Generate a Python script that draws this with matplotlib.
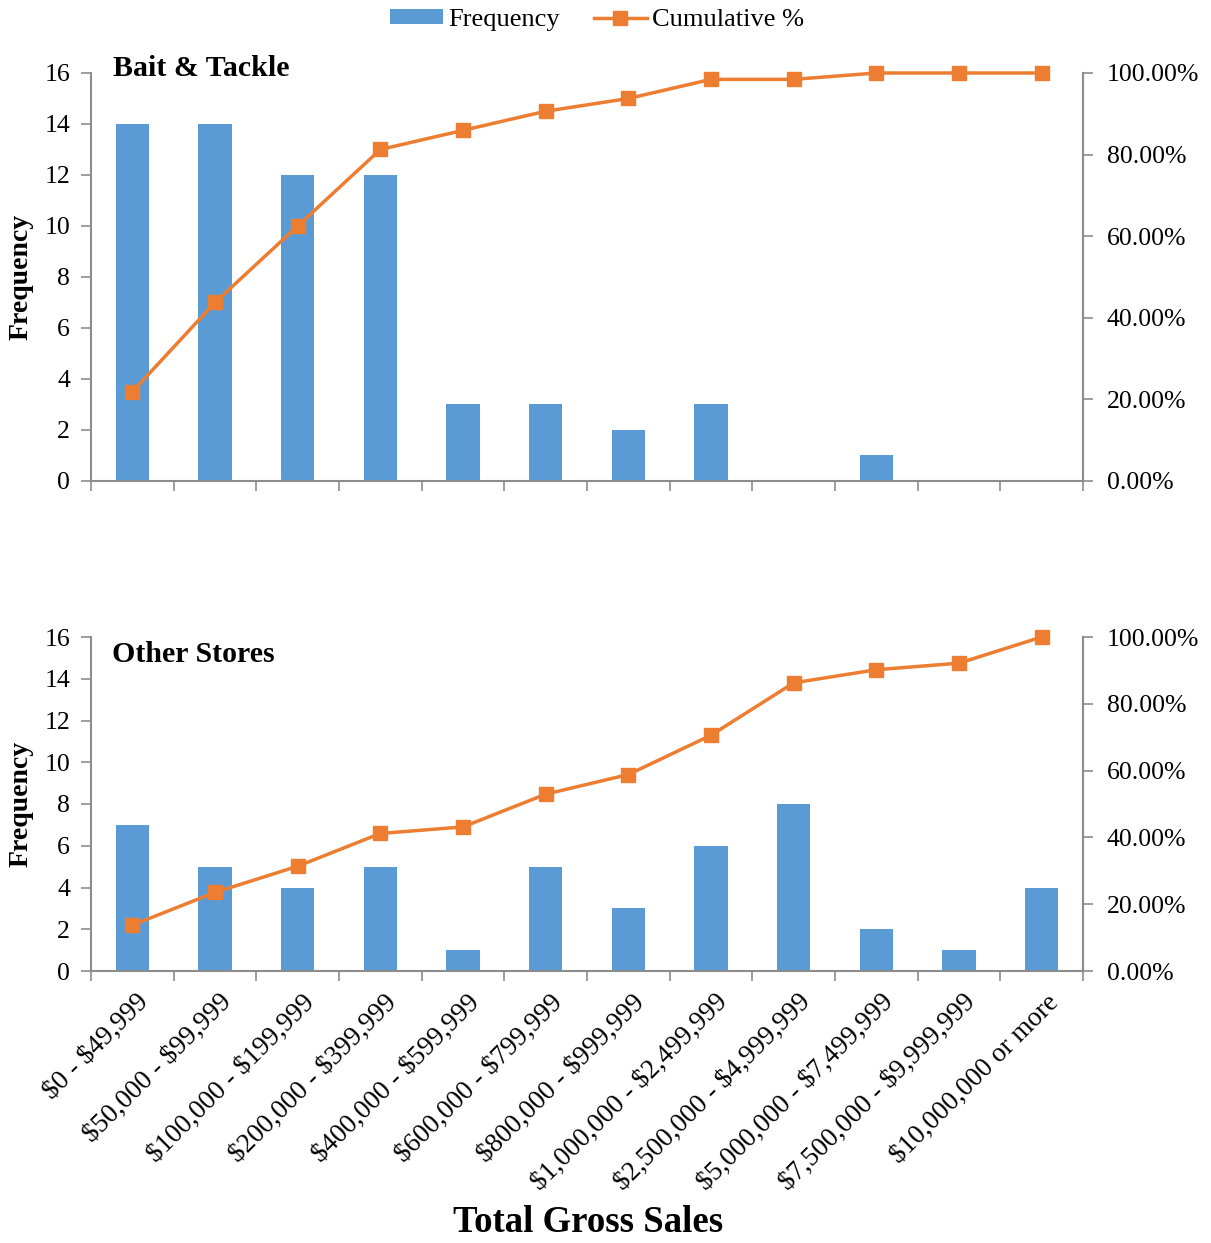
import matplotlib
matplotlib.use("Agg")
import matplotlib.pyplot as plt
from matplotlib.ticker import FuncFormatter, MultipleLocator
from matplotlib.lines import Line2D
from matplotlib.patches import Patch
import numpy as np

plt.rcParams['font.family'] = ['Liberation Serif', 'DejaVu Serif']
plt.rcParams['text.parse_math'] = False

categories = ["$0 - $49,999", "$50,000 - $99,999", "$100,000 - $199,999",
              "$200,000 - $399,999", "$400,000 - $599,999", "$600,000 - $799,999",
              "$800,000 - $999,999", "$1,000,000 - $2,499,999", "$2,500,000 - $4,999,999",
              "$5,000,000 - $7,499,999", "$7,500,000 - $9,999,999", "$10,000,000 or more"]

bait_freq = [14, 14, 12, 12, 3, 3, 2, 3, 0, 1, 0, 0]
bait_cum = [21.88, 43.75, 62.50, 81.25, 85.94, 90.63, 93.75, 98.44, 98.44, 100.0, 100.0, 100.0]

other_freq = [7, 5, 4, 5, 1, 5, 3, 6, 8, 2, 1, 4]
other_cum = [13.73, 23.53, 31.37, 41.18, 43.14, 52.94, 58.82, 70.59, 86.27, 90.20, 92.16, 100.0]

W, H = 1211, 1243
fig = plt.figure(figsize=(W / 100, H / 100), dpi=100)

BAR = '#5B9BD5'
LINE = '#ED7D31'
GRAY = '#8C8C8C'
FS = 18.5


def px_rect(l, t, r, b):
    return [l / W, 1 - b / H, (r - l) / W, (b - t) / H]


def panel(rect, freq, cum, title, title_xy, xlabels):
    ax = fig.add_axes(rect)
    x = np.arange(len(categories))
    ax.bar(x, freq, width=0.4, color=BAR, zorder=2)
    ax.set_xlim(-0.5, len(categories) - 0.5)
    ax.set_ylim(0, 16)
    ax.yaxis.set_major_locator(MultipleLocator(2))
    ax.set_xticks(np.arange(len(categories) + 1) - 0.5)
    ax.set_xticklabels([])
    ax.tick_params(axis='x', length=7, color=GRAY, width=1.2, direction='out')
    ax.tick_params(axis='y', length=7, color=GRAY, width=1.2, direction='out',
                   labelsize=FS, pad=8)
    ax.spines['top'].set_visible(False)
    for s in ['left', 'bottom', 'right']:
        ax.spines[s].set_color(GRAY)
        ax.spines[s].set_linewidth(1.5)
    ax.set_ylabel('Frequency', fontsize=20, fontweight='bold', labelpad=8)

    ax2 = ax.twinx()
    ax2.plot(x, cum, color=LINE, lw=2.5, marker='s', markersize=9.5, zorder=3,
             clip_on=False)
    ax2.set_ylim(0, 100)
    ax2.yaxis.set_major_locator(MultipleLocator(20))
    ax2.yaxis.set_major_formatter(FuncFormatter(lambda v, p: f"{v:.2f}%"))
    ax2.tick_params(axis='y', length=7, color=GRAY, width=1.2, direction='out',
                    labelsize=FS, pad=10)
    for s in ['top', 'left', 'bottom']:
        ax2.spines[s].set_visible(False)
    ax2.spines['right'].set_color(GRAY)
    ax2.spines['right'].set_linewidth(1.5)
    ax2.set_xlim(-0.5, len(categories) - 0.5)

    fig.text(title_xy[0] / W, 1 - title_xy[1] / H, title, fontsize=21.5,
             fontweight='bold', ha='left', va='center')

    if xlabels:
        for i, lab in enumerate(categories):
            ax.text(i + 0.05, -0.9, lab, rotation=45, ha='right', va='top',
                    rotation_mode='anchor', fontsize=19.5, transform=ax.transData)
    return ax, ax2


panel(px_rect(91, 73, 1083, 481), bait_freq, bait_cum, 'Bait & Tackle', (113, 68), False)
panel(px_rect(91, 637, 1083, 971), other_freq, other_cum, 'Other Stores', (112, 655), True)

fig.text(588 / W, 1 - 1223 / H, 'Total Gross Sales', fontsize=26.5, fontweight='bold',
         ha='center', va='center')

handles = [Patch(facecolor=BAR, edgecolor='none'),
           Line2D([0], [0], color=LINE, lw=2.5, marker='s', markersize=9.5)]
fig.legend(handles, ['Frequency', 'Cumulative %'], loc='center',
           bbox_to_anchor=(597 / W, 1 - 20 / H), ncol=2, frameon=False,
           fontsize=19, handlelength=2.0, handletextpad=0.2, columnspacing=1.3,
           handleheight=0.5)

fig.savefig('out.png', dpi=100)
